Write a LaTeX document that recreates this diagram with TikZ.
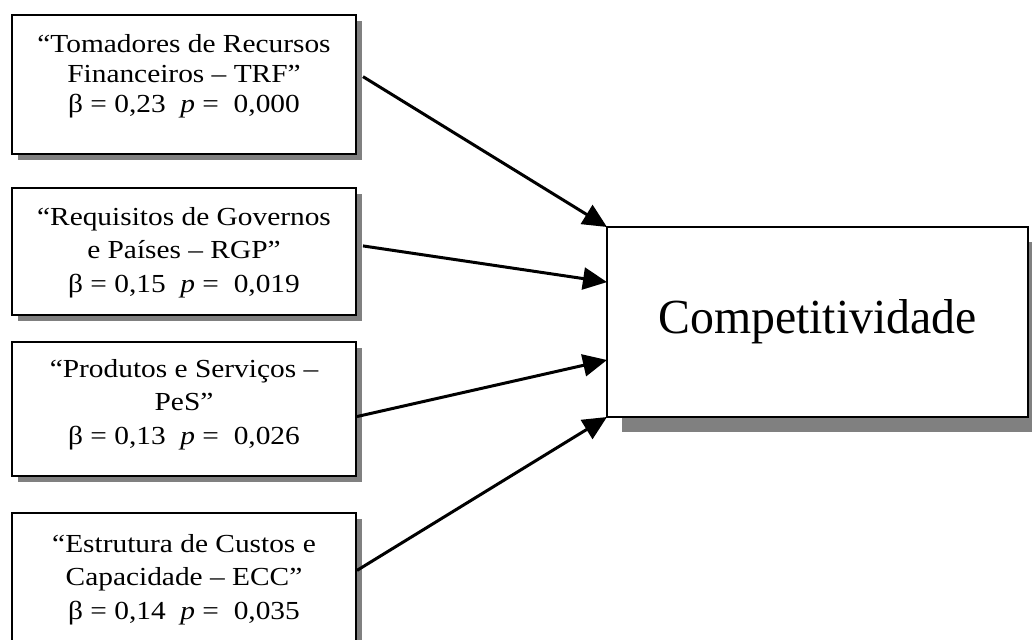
\documentclass[tikz,border=0pt]{standalone}
\usepackage{fontspec}
\setmainfont{Liberation Serif}
\usetikzlibrary{arrows.meta,calc,shadows}
\begin{document}
\begin{tikzpicture}[x=1pt,y=-1pt,
  factor/.style={draw,line width=2pt,fill=white,minimum width=344pt,
    inner sep=0pt,outer sep=0pt,
    drop shadow={shadow xshift=6pt,shadow yshift=-6pt,fill=gray,opacity=1}},
  outcome/.style={draw,line width=2.5pt,fill=white,minimum width=421pt,
    minimum height=190pt,inner sep=0pt,outer sep=0pt,
    font=\fontsize{49}{56}\selectfont,
    drop shadow={shadow xshift=15pt,shadow yshift=-15pt,fill=gray,opacity=1}},
  factortext/.style={align=center,anchor=north,inner sep=0pt,
    xscale=1.13,transform shape,
    font=\fontsize{26}{33.5}\selectfont},
  conn/.style={line width=3pt,-{Triangle[length=24pt,width=22pt]}}]
\useasboundingbox (0,0) rectangle (1032,639);
\begin{scope}
\clip (0,0) rectangle (1032,639);

% explanatory factors
\node[factor,minimum height=139pt] (b1) at (184,85) {};
\node[factor,minimum height=127pt] (b2) at (184,251) {};
\node[factor,minimum height=134pt] (b3) at (184,408.5) {};
\node[factor,minimum height=140pt] (b4) at (184,583) {};

\node[factortext,font=\fontsize{26}{30.2}\selectfont] (t1) at ($(b1.north)+(0,18.7)$)
  {“Tomadores de Recursos\\Financeiros – TRF”\\β = 0,23\ \ \textit{p} =\ \ 0,000};
\node[factortext] (t2) at ($(b2.north)+(0,19.7)$)
  {“Requisitos de Governos\\e Países – RGP”\\β = 0,15\ \ \textit{p} =\ \ 0,019};
\node[factortext] (t3) at ($(b3.north)+(0,17.4)$)
  {“Produtos e Serviços –\\PeS”\\β = 0,13\ \ \textit{p} =\ \ 0,026};
\node[factortext] (t4) at ($(b4.north)+(0,20.9)$)
  {“Estrutura de Custos e\\Capacidade – ECC”\\β = 0,14\ \ \textit{p} =\ \ 0,035};

% dependent construct
\node[outcome] (big) at (817.5,322) {\scalebox{0.975}[1]{Competitividade}};

% path coefficients
\draw[conn] ($(b1.north east)!0.44!(b1.south east)+(7,0)$) -- (big.north west);
\draw[conn] ($(b2.north east)!0.46!(b2.south east)+(7,0)$) -- ($(big.north west)!0.29!(big.south west)$);
\draw[conn] ($(b3.north east)!0.56!(b3.south east)+(1,0)$) -- ($(big.north west)!0.70!(big.south west)$);
\draw[conn] ($(b4.north east)!0.41!(b4.south east)+(1,0)$) -- (big.south west);
\end{scope}
\end{tikzpicture}
\end{document}
